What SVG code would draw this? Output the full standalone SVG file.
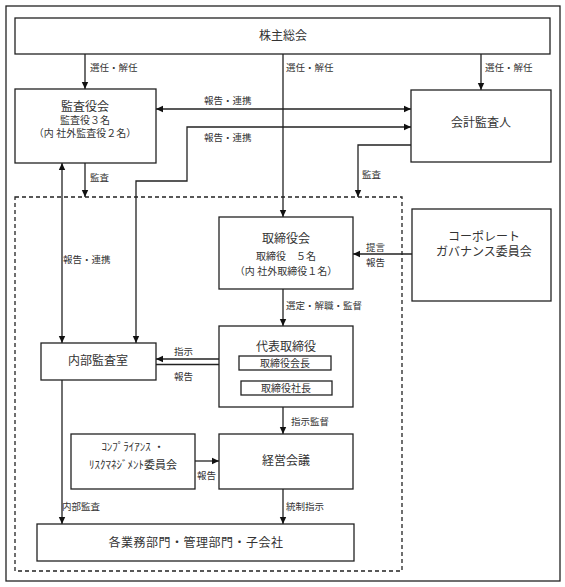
<svg xmlns="http://www.w3.org/2000/svg" width="565" height="587" viewBox="0 0 565 587">
<style>
.box{fill:#fff;stroke:#222;stroke-width:1.3}
.ln{fill:none;stroke:#222;stroke-width:1.3}
.dash{fill:none;stroke:#222;stroke-width:1.3;stroke-dasharray:4 3}
text{font-family:"Liberation Serif","Noto Sans CJK JP",serif;fill:#333}
.t{font-size:12px;text-anchor:middle}
.s{font-size:10px;text-anchor:middle}
.l{font-size:9.5px}
</style>
<defs>
<marker id="ah" markerUnits="userSpaceOnUse" markerWidth="8" markerHeight="8" refX="7" refY="4" orient="auto-start-reverse">
<path d="M0,0.8 L7,4 L0,7.2 Z" fill="#111"/>
</marker>
</defs>
<rect x="6" y="6" width="554" height="575" fill="#fff" stroke="#222" stroke-width="1.3"/>
<rect class="dash" x="15" y="197" width="387" height="374"/>

<g id="connectors">
<line class="ln" x1="85" y1="54" x2="85" y2="89" marker-end="url(#ah)"/>
<line class="ln" x1="283" y1="54" x2="283" y2="217" marker-end="url(#ah)"/>
<line class="ln" x1="481" y1="54" x2="481" y2="90" marker-end="url(#ah)"/>
<line class="ln" x1="156" y1="109" x2="411" y2="109" marker-start="url(#ah)" marker-end="url(#ah)"/>
<path class="ln" d="M136,343 V181 H187 V127 H411" marker-start="url(#ah)" marker-end="url(#ah)"/>
<line class="ln" x1="85" y1="163" x2="85" y2="197" marker-end="url(#ah)"/>
<path class="ln" d="M411,145 H358 V197" marker-end="url(#ah)"/>
<line class="ln" x1="62" y1="163" x2="62" y2="343" marker-start="url(#ah)" marker-end="url(#ah)"/>
<line class="ln" x1="412" y1="254" x2="353" y2="254" marker-end="url(#ah)"/>
<line class="ln" x1="283" y1="289" x2="283" y2="326" marker-end="url(#ah)"/>
<line class="ln" x1="239" y1="359" x2="156" y2="359" marker-end="url(#ah)"/>
<line class="ln" x1="156" y1="364.5" x2="239" y2="364.5" marker-end="url(#ah)"/>
<line class="ln" x1="283" y1="407" x2="283" y2="434" marker-end="url(#ah)"/>
<line class="ln" x1="195" y1="461" x2="219" y2="461" marker-end="url(#ah)"/>
<line class="ln" x1="283" y1="489" x2="283" y2="524" marker-end="url(#ah)"/>
<line class="ln" x1="62" y1="380" x2="62" y2="524" marker-end="url(#ah)"/>
<text class="l" x="90" y="71">選任・解任</text>
<text class="l" x="286" y="71">選任・解任</text>
<text class="l" x="485" y="71">選任・解任</text>
<text class="l" x="204" y="104">報告・連携</text>
<text class="l" x="204" y="141">報告・連携</text>
<text class="l" x="90" y="181">監査</text>
<text class="l" x="362" y="178">監査</text>
<text class="l" x="63" y="263">報告・連携</text>
<text class="l" x="366" y="251">提言</text>
<text class="l" x="366" y="266">報告</text>
<text class="l" x="286" y="309">選定・解職・監督</text>
<text class="l" x="174" y="355">指示</text>
<text class="l" x="174" y="380">報告</text>
<text class="l" x="291" y="425">指示監督</text>
<text class="l" x="197" y="479">報告</text>
<text class="l" x="62" y="510">内部監査</text>
<text class="l" x="286" y="510">統制指示</text>
</g>

<g id="kabunushi"><rect class="box" x="15" y="18" width="535" height="36"/><text class="t" x="283" y="40">株主総会</text></g>
<g id="kansayakukai"><rect class="box" x="15" y="89" width="141" height="74"/>
<text class="t" x="85" y="111">監査役会</text>
<text class="s" x="85" y="124">監査役３名</text>
<text class="s" x="85" y="137">（内 社外監査役２名）</text></g>
<g id="kaikei"><rect class="box" x="411" y="90" width="140" height="72"/><text class="t" x="481" y="127">会計監査人</text></g>
<g id="torishimariyakukai"><rect class="box" x="219" y="217" width="134" height="72"/>
<text class="t" x="286" y="243">取締役会</text>
<text class="s" x="286" y="260">取締役　５名</text>
<text class="s" x="286" y="275">（内 社外取締役１名）</text></g>
<g id="cg"><rect class="box" x="412" y="209" width="139" height="92"/>
<text class="t" x="484" y="241">コーポレート</text>
<text class="t" x="484" y="256">ガバナンス委員会</text></g>
<g id="naibu"><rect class="box" x="41" y="343" width="115" height="37"/><text class="t" x="98" y="365">内部監査室</text></g>
<g id="daihyo"><rect class="box" x="219" y="326" width="134" height="81"/>
<text class="t" x="286" y="351">代表取締役</text>
<rect class="box" x="239" y="356" width="92" height="14"/>
<text class="s" x="285" y="367">取締役会長</text>
<rect class="box" x="241" y="381" width="91" height="14"/>
<text class="s" x="286" y="392">取締役社長</text></g>
<g id="compliance"><rect class="box" x="71" y="434" width="124" height="55"/>
<text font-size="11" text-anchor="middle" x="133" y="451">ｺﾝﾌﾟﾗｲｱﾝｽ ・</text>
<text font-size="11" text-anchor="middle" x="133" y="469">ﾘｽｸﾏﾈｼﾞﾒﾝﾄ委員会</text></g>
<g id="keiei"><rect class="box" x="219" y="434" width="134" height="55"/><text class="t" x="286" y="465">経営会議</text></g>
<g id="kakugyomu"><rect class="box" x="37" y="524" width="317" height="37"/><text class="t" x="196" y="547" letter-spacing="0.5">各業務部門・管理部門・子会社</text></g>
</svg>
